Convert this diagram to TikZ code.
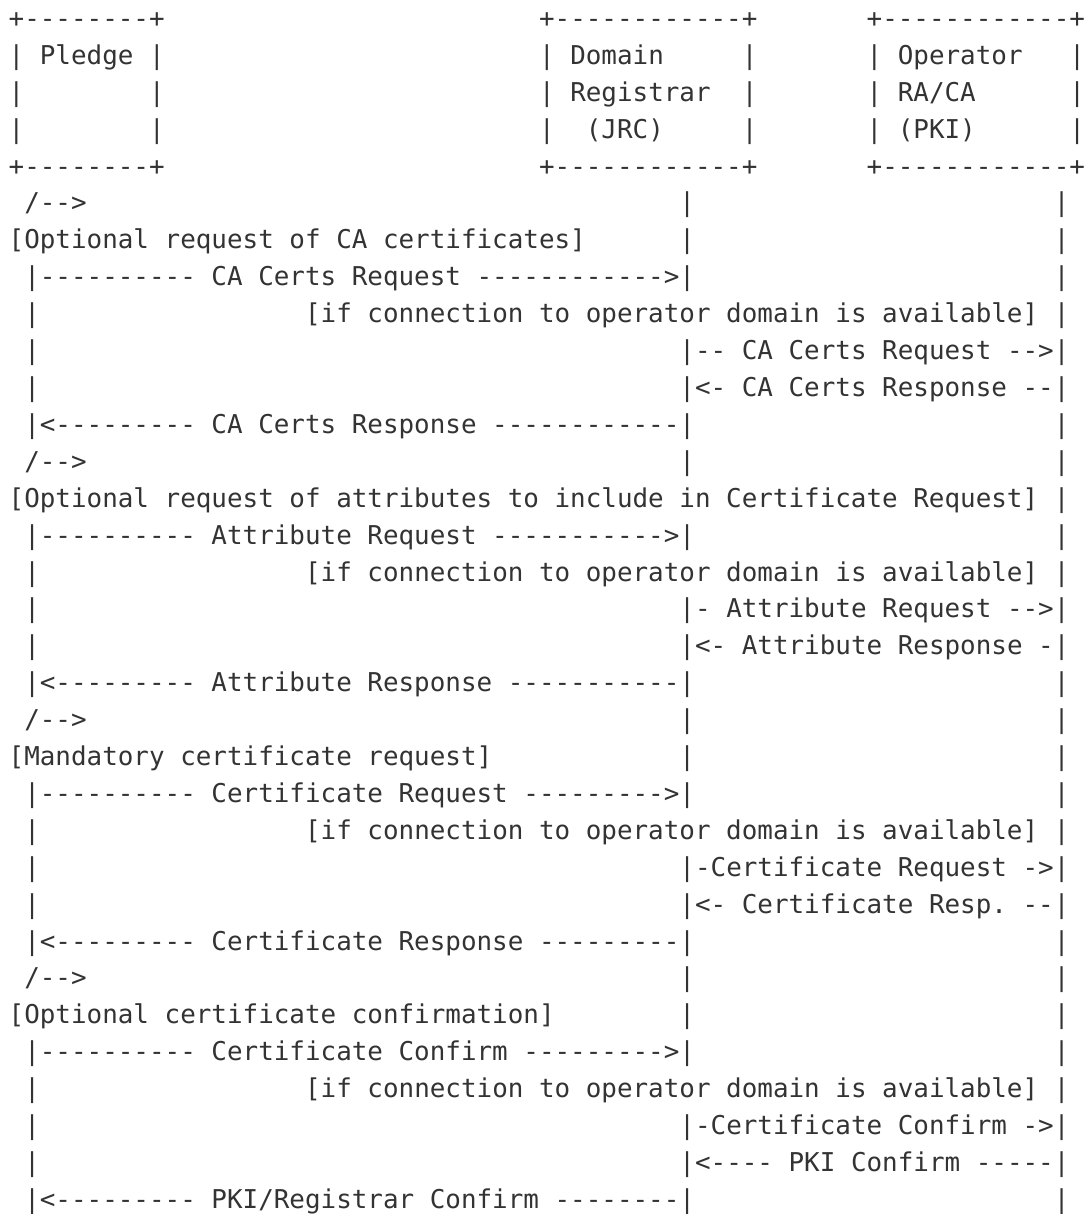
\documentclass[tikz,border=0pt]{standalone}
\usepackage{fontspec}
\setmonofont{DejaVu Sans Mono}
\definecolor{ink}{HTML}{333333}
\newcommand\blanks[1]{\hskip\dimexpr #1\fontcharwd\font`M\relax}
\begin{document}
\begin{tikzpicture}[x=1pt,y=-1pt,
  row/.style={anchor=base west, inner sep=0pt, outer sep=0pt, text=ink,
    font=\ttfamily\fontsize{25.91}{36.9}\selectfont}]
\useasboundingbox (0,0) rectangle (1087,1214);
\def\lx{8.7}
\def\ly{27.5}
\def\lh{36.9}
% participant boxes
\node[row] (l1) at (\lx,\ly+0*\lh) {+--------+\blanks{24}+------------+\blanks{7}+------------+};
\node[row] (l2) at (\lx,\ly+1*\lh) {| Pledge |\blanks{24}| Domain\blanks{5}|\blanks{7}| Operator\blanks{3}|};
\node[row] (l3) at (\lx,\ly+2*\lh) {|\blanks{8}|\blanks{24}| Registrar\blanks{2}|\blanks{7}| RA/CA\blanks{6}|};
\node[row] (l4) at (\lx,\ly+3*\lh) {|\blanks{8}|\blanks{24}|\blanks{2}(JRC)\blanks{5}|\blanks{7}| (PKI)\blanks{6}|};
\node[row] (l5) at (\lx,\ly+4*\lh) {+--------+\blanks{24}+------------+\blanks{7}+------------+};
% CA certs
\node[row] (l6) at (\lx,\ly+5*\lh) {\blanks{1}/-->\blanks{38}|\blanks{23}|};
\node[row] (l7) at (\lx,\ly+6*\lh) {[Optional request of CA certificates]\blanks{6}|\blanks{23}|};
\node[row] (l8) at (\lx,\ly+7*\lh) {\blanks{1}|---------- CA Certs Request ------------>|\blanks{23}|};
\node[row] (l9) at (\lx,\ly+8*\lh) {\blanks{1}|\blanks{17}[if connection to operator domain is available] |};
\node[row] (l10) at (\lx,\ly+9*\lh) {\blanks{1}|\blanks{41}|-- CA Certs Request -->|};
\node[row] (l11) at (\lx,\ly+10*\lh) {\blanks{1}|\blanks{41}|<- CA Certs Response --|};
\node[row] (l12) at (\lx,\ly+11*\lh) {\blanks{1}|<--------- CA Certs Response ------------|\blanks{23}|};
% attributes
\node[row] (l13) at (\lx,\ly+12*\lh) {\blanks{1}/-->\blanks{38}|\blanks{23}|};
\node[row] (l14) at (\lx,\ly+13*\lh) {[Optional request of attributes to include in Certificate Request] |};
\node[row] (l15) at (\lx,\ly+14*\lh) {\blanks{1}|---------- Attribute Request ----------->|\blanks{23}|};
\node[row] (l16) at (\lx,\ly+15*\lh) {\blanks{1}|\blanks{17}[if connection to operator domain is available] |};
\node[row] (l17) at (\lx,\ly+16*\lh) {\blanks{1}|\blanks{41}|- Attribute Request -->|};
\node[row] (l18) at (\lx,\ly+17*\lh) {\blanks{1}|\blanks{41}|<- Attribute Response -|};
\node[row] (l19) at (\lx,\ly+18*\lh) {\blanks{1}|<--------- Attribute Response -----------|\blanks{23}|};
% certificate request
\node[row] (l20) at (\lx,\ly+19*\lh) {\blanks{1}/-->\blanks{38}|\blanks{23}|};
\node[row] (l21) at (\lx,\ly+20*\lh) {[Mandatory certificate request]\blanks{12}|\blanks{23}|};
\node[row] (l22) at (\lx,\ly+21*\lh) {\blanks{1}|---------- Certificate Request --------->|\blanks{23}|};
\node[row] (l23) at (\lx,\ly+22*\lh) {\blanks{1}|\blanks{17}[if connection to operator domain is available] |};
\node[row] (l24) at (\lx,\ly+23*\lh) {\blanks{1}|\blanks{41}|-Certificate Request ->|};
\node[row] (l25) at (\lx,\ly+24*\lh) {\blanks{1}|\blanks{41}|<- Certificate Resp. --|};
\node[row] (l26) at (\lx,\ly+25*\lh) {\blanks{1}|<--------- Certificate Response ---------|\blanks{23}|};
% confirmation
\node[row] (l27) at (\lx,\ly+26*\lh) {\blanks{1}/-->\blanks{38}|\blanks{23}|};
\node[row] (l28) at (\lx,\ly+27*\lh) {[Optional certificate confirmation]\blanks{8}|\blanks{23}|};
\node[row] (l29) at (\lx,\ly+28*\lh) {\blanks{1}|---------- Certificate Confirm --------->|\blanks{23}|};
\node[row] (l30) at (\lx,\ly+29*\lh) {\blanks{1}|\blanks{17}[if connection to operator domain is available] |};
\node[row] (l31) at (\lx,\ly+30*\lh) {\blanks{1}|\blanks{41}|-Certificate Confirm ->|};
\node[row] (l32) at (\lx,\ly+31*\lh) {\blanks{1}|\blanks{41}|<---- PKI Confirm -----|};
\node[row] (l33) at (\lx,\ly+32*\lh) {\blanks{1}|<--------- PKI/Registrar Confirm --------|\blanks{23}|};
\end{tikzpicture}
\end{document}
